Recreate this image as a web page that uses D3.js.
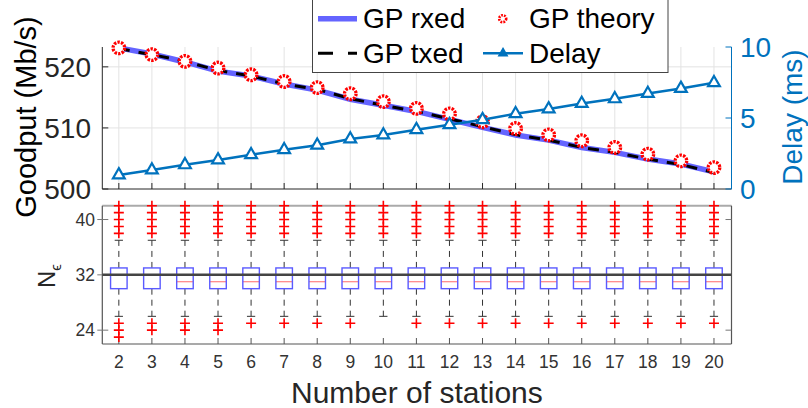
<!DOCTYPE html>
<html>
<head>
<meta charset="utf-8">
<script src="https://cdn.jsdelivr.net/npm/d3@7"></script>
<style>
  body { margin: 0; background: #fff; }
  svg { display: block; font-family: "Liberation Sans", Arial, Helvetica, sans-serif; }
</style>
</head>
<body>
<svg id="chart" width="808" height="408"></svg>
<script>
// values
const stations = [2, 3, 4, 5, 6, 7, 8, 9, 10, 11, 12, 13, 14, 15, 16, 17, 18, 19, 20];
const gpRxed = [523.1, 522.1, 520.8, 519.3, 518.5, 517.2, 516.2, 514.7, 513.7, 512.7, 511.4, 510.1, 508.85, 508.0, 506.8, 506.0, 504.9, 504.1, 502.8];
const gpTxed = [523.0, 522.0, 520.9, 519.4, 518.5, 517.2, 516.3, 514.8, 513.7, 512.7, 511.5, 510.2, 508.9, 508.0, 506.8, 506.0, 504.9, 504.0, 502.7];
const gpTheory = [523.1, 522.0, 520.9, 519.8, 518.7, 517.6, 516.6, 515.6, 514.3, 513.2, 512.3, 511.0, 509.9, 508.85, 507.9, 506.8, 505.7, 504.6, 503.5];
const delay = [0.99, 1.34, 1.70, 2.05, 2.41, 2.76, 3.08, 3.52, 3.8, 4.18, 4.53, 4.88, 5.3, 5.64, 6.02, 6.35, 6.72, 7.08, 7.48];

const gpTicks = [500, 510, 520];
const delayTicks = [0, 5, 10];
const neTicks = [24, 32, 40];
const neRef = 32;

// boxplot of N_eps per station count
const boxQ1 = [30, 30, 30, 30, 30, 30, 30, 30, 30, 30, 30, 30, 30, 30, 30, 30, 30, 30, 30];
const boxQ3 = [33, 33, 33, 33, 33, 33, 33, 33, 33, 33, 33, 33, 33, 33, 33, 33, 33, 33, 33];
const boxMed = [32, 32, 31, 31, 31, 31, 31, 31, 31, 31, 31, 31, 31, 31, 31, 31, 31, 31, 31];
const whiskLo = [26, 26, 26, 26, 26, 26, 26, 26, 26, 26, 26, 26, 26, 26, 26, 26, 26, 26, 26];
const whiskHi = [37, 37, 37, 37, 37, 37, 37, 37, 37, 37, 37, 37, 37, 37, 37, 37, 37, 37, 37];
const outHi = [38, 39, 40, 41, 42];
const outLo = [[25, 24, 23], [25, 24], [25, 24], [25, 24], [25], [25], [25], [25], [], [25], [25], [25], [25], [25], [25], [25], [25], [25], [25]];

const DARK = "#262626";
const BLUE = "#0072bd";

const svg = d3.select("#chart");

const x = d3.scaleLinear().domain([1.5, 20.53]).range([102.3, 731.5]);
const yGp = d3.scaleLinear().domain([500, 523.25]).range([189, 47]);
const yDelay = d3.scaleLinear().domain([0, 10]).range([189, 47]);
const yNe = d3.scaleLinear().domain([22, 42]).range([344, 205.7]);

const [xl, xr] = x.range();

// ---------- top panel ----------
let gTop = svg.append("g");

// grid
gTop.selectAll(".vgrid")
    .data(stations)
    .join("line")
    .attr("x1", d => x(d)).attr("x2", d => x(d))
    .attr("y1", yGp.range()[1]).attr("y2", yGp.range()[0])
    .attr("stroke", "#e3e3e3").attr("stroke-width", 1);
gTop.selectAll(".hgrid")
    .data(gpTicks.slice(1))
    .join("line")
    .attr("x1", xl).attr("x2", xr)
    .attr("y1", d => yGp(d)).attr("y2", d => yGp(d))
    .attr("stroke", "#e3e3e3").attr("stroke-width", 1);

// axes lines
gTop.append("line").attr("x1", xl).attr("x2", xl).attr("y1", 47).attr("y2", 189)
    .attr("stroke", DARK).attr("stroke-width", 1);
gTop.append("line").attr("x1", xl).attr("x2", xr).attr("y1", 189).attr("y2", 189)
    .attr("stroke", DARK).attr("stroke-width", 1);
gTop.append("line").attr("x1", xr).attr("x2", xr).attr("y1", 47).attr("y2", 189)
    .attr("stroke", BLUE).attr("stroke-width", 1);

// ticks
gTop.selectAll(".xt").data(stations).join("line")
    .attr("x1", d => x(d)).attr("x2", d => x(d)).attr("y1", 189).attr("y2", 183)
    .attr("stroke", DARK);
gTop.selectAll(".ylt").data(gpTicks).join("line")
    .attr("x1", xl).attr("x2", xl + 6).attr("y1", d => yGp(d)).attr("y2", d => yGp(d))
    .attr("stroke", DARK);
gTop.selectAll(".yrt").data(delayTicks).join("line")
    .attr("x1", xr - 6).attr("x2", xr).attr("y1", d => yDelay(d)).attr("y2", d => yDelay(d))
    .attr("stroke", BLUE);

gTop.selectAll(".yll").data(gpTicks).join("text")
    .attr("x", 91).attr("y", d => yGp(d)).attr("dy", "0.36em")
    .attr("text-anchor", "end").attr("font-size", 28).attr("fill", DARK)
    .text(d => d);
gTop.selectAll(".yrl").data(delayTicks).join("text")
    .attr("x", 740).attr("y", d => yDelay(d)).attr("dy", "0.36em")
    .attr("font-size", 28).attr("fill", BLUE)
    .text(d => d);

gTop.append("text")
    .attr("transform", "translate(36,117) rotate(-90)")
    .attr("text-anchor", "middle").attr("font-size", 29).attr("fill", "#000")
    .text("Goodput (Mb/s)");
gTop.append("text")
    .attr("transform", "translate(802,117) rotate(-90)")
    .attr("text-anchor", "middle").attr("font-size", 28).attr("fill", BLUE)
    .text("Delay (ms)");

// series
const gpLine = vals => d3.line().x((d, i) => x(stations[i])).y(d => yGp(d))(vals);

gTop.append("path").attr("d", gpLine(gpRxed))
    .attr("fill", "none").attr("stroke", "#6464ff").attr("stroke-width", 5.5);
gTop.append("path").attr("d", gpLine(gpTxed))
    .attr("fill", "none").attr("stroke", "#000").attr("stroke-width", 3)
    .attr("stroke-dasharray", "11,9");

function theoryMarker(sel) {
    sel.attr("r", 5.8).attr("fill", "#fff").attr("stroke", "#ff0000")
        .attr("stroke-width", 3.3).attr("stroke-dasharray", "2.4,1.2");
}
gTop.selectAll(".theory").data(gpTheory).join("circle")
    .attr("cx", (d, i) => x(stations[i])).attr("cy", d => yGp(d))
    .call(theoryMarker);

gTop.append("path")
    .attr("d", d3.line().x((d, i) => x(stations[i])).y(d => yDelay(d))(delay))
    .attr("fill", "none").attr("stroke", BLUE).attr("stroke-width", 2.5);

const tri = d3.symbol().type(d3.symbolTriangle).size(60);
gTop.selectAll(".delayPt").data(delay).join("path")
    .attr("d", tri)
    .attr("transform", (d, i) => `translate(${x(stations[i])},${yDelay(d)})`)
    .attr("fill", "#fff").attr("stroke", BLUE).attr("stroke-width", 2.2);

// legend
let legend = svg.append("g");
legend.append("rect")
    .attr("x", 312.5).attr("y", -5).attr("width", 355.5).attr("height", 77.5)
    .attr("fill", "#fff").attr("stroke", "#444").attr("stroke-width", 1);

legend.append("line").attr("x1", 318).attr("x2", 357).attr("y1", 18.7).attr("y2", 18.7)
    .attr("stroke", "#6464ff").attr("stroke-width", 5.5);
legend.append("line").attr("x1", 318).attr("x2", 357).attr("y1", 53.3).attr("y2", 53.3)
    .attr("stroke", "#000").attr("stroke-width", 3).attr("stroke-dasharray", "15,15");
legend.append("circle").attr("cx", 502.7).attr("cy", 18.7).call(theoryMarker)
    .attr("r", 3.5).attr("stroke-width", 2.6).attr("stroke-dasharray", "1.8,1.1");
legend.append("line").attr("x1", 483).attr("x2", 523).attr("y1", 53.3).attr("y2", 53.3)
    .attr("stroke", BLUE).attr("stroke-width", 2.5);
legend.append("path").attr("d", d3.symbol().type(d3.symbolTriangle).size(30))
    .attr("transform", "translate(503,53.3)")
    .attr("fill", BLUE).attr("stroke", BLUE).attr("stroke-width", 1.5);

const legendItems = [
    {label: "GP rxed", x: 363, y: 28},
    {label: "GP theory", x: 529, y: 28},
    {label: "GP txed", x: 363, y: 63},
    {label: "Delay", x: 529, y: 63}
];
legend.selectAll(".lt").data(legendItems).join("text")
    .attr("x", d => d.x).attr("y", d => d.y)
    .attr("font-size", 28).attr("fill", "#000")
    .text(d => d.label);

// ---------- bottom panel ----------
let gBot = svg.append("g");
const [yb, yt] = yNe.range();
const boxW = x(2.25) - x(2);
const capW = x(2.125) - x(2);

gBot.append("line").attr("x1", xl).attr("x2", xr).attr("y1", yt).attr("y2", yt)
    .attr("stroke", "#aaa").attr("stroke-width", 2);
gBot.append("line").attr("x1", xl).attr("x2", xr).attr("y1", yb).attr("y2", yb)
    .attr("stroke", "#555").attr("stroke-width", 1.2);
gBot.append("line").attr("x1", xl).attr("x2", xl).attr("y1", yt).attr("y2", yb)
    .attr("stroke", "#555").attr("stroke-width", 1.2);
gBot.append("line").attr("x1", xr).attr("x2", xr).attr("y1", yt).attr("y2", yb)
    .attr("stroke", "#555").attr("stroke-width", 1.2);

gBot.selectAll(".bxt").data(stations).join("line")
    .attr("x1", d => x(d)).attr("x2", d => x(d)).attr("y1", yb).attr("y2", yb - 6)
    .attr("stroke", "#555");
gBot.selectAll(".byt").data(neTicks).join("line")
    .attr("x1", xl - 5).attr("x2", xl + 6).attr("y1", d => yNe(d)).attr("y2", d => yNe(d))
    .attr("stroke", "#777");
gBot.selectAll(".byr").data(neTicks).join("line")
    .attr("x1", xr - 6).attr("x2", xr).attr("y1", d => yNe(d)).attr("y2", d => yNe(d))
    .attr("stroke", "#777");

gBot.selectAll(".byl").data(neTicks).join("text")
    .attr("x", 95).attr("y", d => yNe(d)).attr("dy", "0.36em")
    .attr("text-anchor", "end").attr("font-size", 17.5).attr("fill", "#333")
    .text(d => d);
gBot.selectAll(".bxl").data(stations).join("text")
    .attr("x", d => x(d)).attr("y", 368)
    .attr("text-anchor", "middle").attr("font-size", 17.5).attr("fill", "#333")
    .text(d => d);

gBot.append("text")
    .attr("x", (xl + xr) / 2).attr("y", 403)
    .attr("text-anchor", "middle").attr("font-size", 30).attr("fill", DARK)
    .text("Number of stations");

let neLabel = gBot.append("text")
    .attr("transform", "translate(55,276) rotate(-90)")
    .attr("text-anchor", "middle").attr("font-size", 24).attr("fill", DARK);
neLabel.append("tspan").text("N");
neLabel.append("tspan").attr("font-size", 15).attr("dy", 6).text("ϵ");

// boxes
let boxes = gBot.selectAll(".box").data(stations).join("g").attr("class", "box");

boxes.append("line")
    .attr("x1", d => x(d)).attr("x2", d => x(d))
    .attr("y1", (d, i) => yNe(boxQ3[i])).attr("y2", (d, i) => yNe(whiskHi[i]))
    .attr("stroke", "#333").attr("stroke-dasharray", "6,5");
boxes.append("line")
    .attr("x1", d => x(d)).attr("x2", d => x(d))
    .attr("y1", (d, i) => yNe(boxQ1[i])).attr("y2", (d, i) => yNe(whiskLo[i]))
    .attr("stroke", "#333").attr("stroke-dasharray", "6,5");
boxes.append("line")
    .attr("x1", d => x(d) - capW).attr("x2", d => x(d) + capW)
    .attr("y1", (d, i) => yNe(whiskHi[i])).attr("y2", (d, i) => yNe(whiskHi[i]))
    .attr("stroke", "#333");
boxes.append("line")
    .attr("x1", d => x(d) - capW).attr("x2", d => x(d) + capW)
    .attr("y1", (d, i) => yNe(whiskLo[i])).attr("y2", (d, i) => yNe(whiskLo[i]))
    .attr("stroke", "#333");
boxes.append("line")
    .attr("x1", d => x(d) - boxW).attr("x2", d => x(d) + boxW)
    .attr("y1", (d, i) => yNe(boxMed[i])).attr("y2", (d, i) => yNe(boxMed[i]))
    .attr("stroke", "#ff6a6a").attr("stroke-width", 1);
boxes.append("rect")
    .attr("x", d => x(d) - boxW).attr("width", 2 * boxW)
    .attr("y", (d, i) => yNe(boxQ3[i]))
    .attr("height", (d, i) => yNe(boxQ1[i]) - yNe(boxQ3[i]))
    .attr("fill", "none").attr("stroke", "#5a5aff").attr("stroke-width", 1.4);

// reference line
gBot.append("line").attr("x1", xl).attr("x2", xr)
    .attr("y1", yNe(neRef)).attr("y2", yNe(neRef))
    .attr("stroke", "#444").attr("stroke-width", 2.5);

// outliers
const plus = "M-5,0H5M0,-5V5";
boxes.selectAll(".oh").data(outHi).join("path")
    .attr("d", plus)
    .attr("transform", function (v) {
        let s = d3.select(this.parentNode).datum();
        return `translate(${x(s)},${yNe(v)})`;
    })
    .attr("stroke", "#ff0000").attr("stroke-width", 1.6).attr("fill", "none");
boxes.selectAll(".ol").data((d, i) => outLo[i]).join("path")
    .attr("d", plus)
    .attr("transform", function (v) {
        let s = d3.select(this.parentNode).datum();
        return `translate(${x(s)},${yNe(v)})`;
    })
    .attr("stroke", "#ff0000").attr("stroke-width", 1.6).attr("fill", "none");
</script>
</body>
</html>
